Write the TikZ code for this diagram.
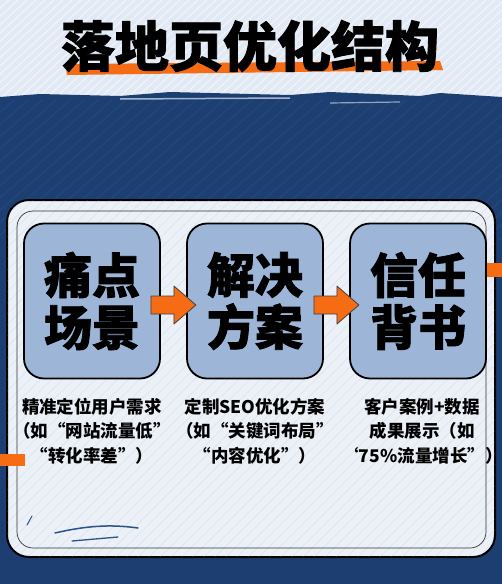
\documentclass[tikz,border=0pt]{standalone}
\usepackage{fontspec}
\newfontfamily\cjk{Noto Sans CJK SC}
\newfontfamily\cjkh{Noto Sans CJK SC}[BoldFeatures={FakeBold=1.6}]
\usetikzlibrary{calc}
\definecolor{navy}{RGB}{28,62,112}
\definecolor{navyl}{RGB}{44,82,138}
\definecolor{skyl}{RGB}{224,233,244}
\definecolor{panelc}{RGB}{236,241,247}
\definecolor{boxc}{RGB}{157,182,216}
\definecolor{orng}{RGB}{245,108,20}
\begin{document}
\begin{tikzpicture}[x=1pt,y=-1pt,
  stepbox/.style={draw=black, line width=1.8pt, fill=boxc, rounded corners=20pt,
    minimum width=136pt, minimum height=155pt, inner sep=0pt, align=center,
    font=\cjkh\bfseries\fontsize{48}{52}\selectfont},
  caption/.style={align=center, inner sep=0pt,
    font=\cjk\bfseries\fontsize{17.5}{24.5}\selectfont},
  arr/.style={fill=orng, draw=black!75, line width=0.8pt, line join=round}]
\useasboundingbox (0,0) rectangle (502,584);
% background
\fill[skyl] (0,0) rectangle (502,110);
\begin{scope}
\clip (0,0) rectangle (502,110);
\foreach \i in {0,9,...,700}
  \draw[white, line width=1.2pt, opacity=0.55] (\i-120,110) -- (\i,0);
\end{scope}
\fill[navy] (0,97) -- (40,94) -- (120,96) -- (170,92) -- (290,95) -- (330,92)
  -- (420,96) -- (440,93) -- (502,97) -- (502,584) -- (0,584) -- cycle;
\begin{scope}
\clip (0,97) rectangle (502,584);
\foreach \i in {0,14,...,760}
  \draw[navyl, line width=2pt, opacity=0.35] (\i-160,240) -- (\i,100);
\end{scope}
\draw[skyl, line width=1.5pt, opacity=0.7] (120,99) -- (290,98);
\draw[skyl, line width=1.2pt, opacity=0.6] (330,103) -- (400,102);
% title
\fill[orng] (65,64) -- (440,61) -- (443,70) -- (67,75) -- cycle;
\node[font=\cjkh\bfseries\fontsize{54}{60}\selectfont, inner sep=0pt] (title) at (250,46) {落地页优化结构};
% panel
\draw[line width=2pt, fill=panelc, rounded corners=22pt] (7,200) rectangle (495,557);
\begin{scope}
\clip[rounded corners=22pt] (7,200) rectangle (495,557);
\foreach \i in {0,11,...,900}
  \draw[boxc, line width=1pt, opacity=0.18] (\i-360,560) -- (\i,200);
\end{scope}
\draw[line width=0.7pt, black!80, rounded corners=16pt] (17,211) rectangle (486,548);
% boxes
\node[stepbox] (b1) at (92,301) {痛点\\场景};
\node[stepbox] (b2) at (255,301) {解决\\方案};
\node[stepbox] (b3) at (418,301) {信任\\背书};
% arrows
\draw[arr] ($(b1.east)+(-10,-5)$) -- ++(23,0) -- ++(0,-10) -- ++(22,19)
  -- ++(-22,19) -- ++(0,-10) -- ++(-23,0) -- cycle;
\draw[arr] ($(b2.east)+(-10,-5)$) -- ++(23,0) -- ++(0,-10) -- ++(22,19)
  -- ++(-22,19) -- ++(0,-10) -- ++(-23,0) -- cycle;
% captions
\node[caption] (c1) at ($(b1.south)+(0,51.5)$) {精准定位用户需求\\（如“网站流量低”\\“转化率差”）};
\node[caption] (c2) at ($(b2.south)+(0,51.5)$) {定制SEO优化方案\\（如“关键词布局”\\“内容优化”）};
\node[caption] (c3) at ($(b3.south)+(4,51.5)$) {客户案例+数据\\成果展示（如\\‘75\%流量增长”）};
% decorations
\fill[orng] (487,263) rectangle (502,277);
\fill[orng] (0,454) rectangle (25,466);
\draw[navyl, line width=1.5pt, line cap=round] (55,533) .. controls (85,526) and (110,524) .. (138,528);
\draw[navyl, line width=1.3pt, line cap=round] (72,541) -- (118,537);
\draw[navyl, line width=1pt, line cap=round] (27,525) -- (32,516);
\end{tikzpicture}
\end{document}
